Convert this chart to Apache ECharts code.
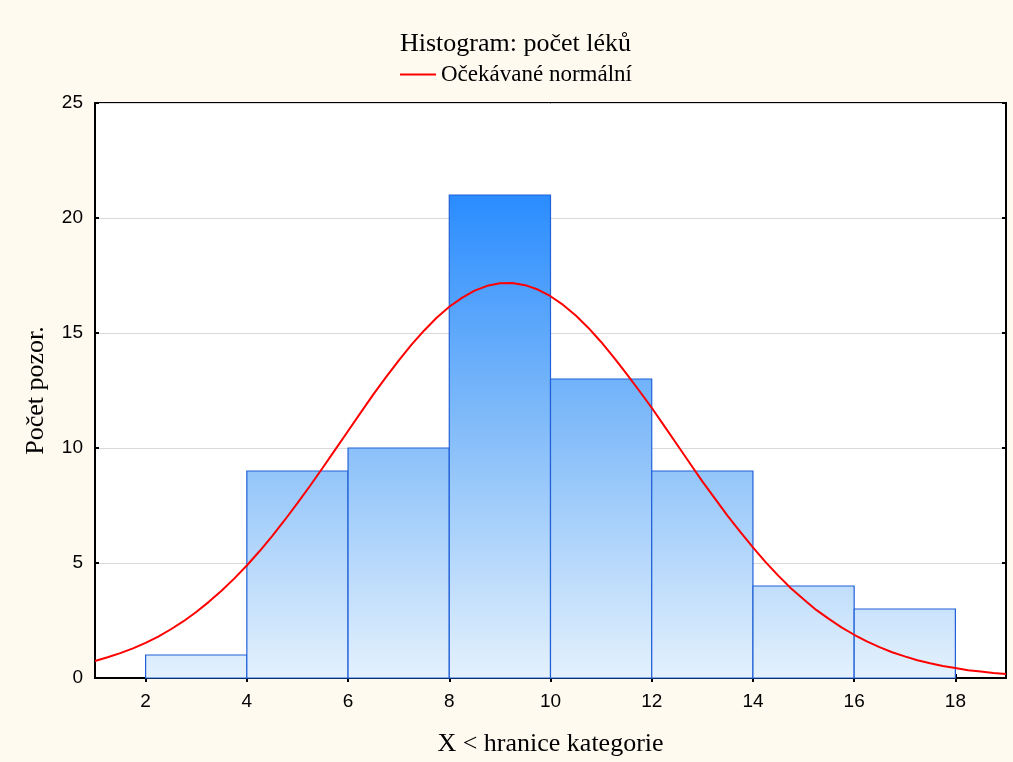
<!DOCTYPE html>
<html>
<head>
<meta charset="utf-8">
<script src="https://cdn.jsdelivr.net/npm/echarts@6/dist/echarts.min.js"></script>
<style>
html,body{margin:0;padding:0;background:#FFFAF0;}
#chart{width:1013px;height:762px;}
</style>
</head>
<body>
<div id="chart"></div>
<script>
// Histogram bins: lower bound, upper bound, count
const binStarts = [2, 4, 6, 8, 10, 12, 14, 16];
const binEnds   = [4, 6, 8, 10, 12, 14, 16, 18];
const binCounts = [1, 9, 10, 21, 13, 9, 4, 3];

// Expected normal curve
const curveX = [1,1.25,1.5,1.75,2,2.25,2.5,2.75,3,3.25,3.5,3.75,4,4.25,4.5,4.75,5,5.25,5.5,5.75,6,6.25,6.5,6.75,7,7.25,7.5,7.75,8,8.25,8.5,8.75,9,9.25,9.5,9.75,10,10.25,10.5,10.75,11,11.25,11.5,11.75,12,12.25,12.5,12.75,13,13.25,13.5,13.75,14,14.25,14.5,14.75,15,15.25,15.5,15.75,16,16.25,16.5,16.75,17,17.25,17.5,17.75,18,18.25,18.5,18.75,19];
const curveY = [0.74,0.90,1.08,1.29,1.53,1.80,2.12,2.47,2.87,3.31,3.79,4.32,4.89,5.51,6.17,6.87,7.60,8.36,9.14,9.94,10.74,11.54,12.33,13.08,13.80,14.48,15.10,15.66,16.14,16.53,16.84,17.05,17.16,17.17,17.08,16.89,16.60,16.22,15.76,15.22,14.61,13.94,13.23,12.50,11.75,10.95,10.15,9.35,8.55,7.80,7.05,6.35,5.68,5.04,4.45,3.90,3.42,2.96,2.57,2.20,1.88,1.59,1.34,1.12,0.94,0.77,0.64,0.52,0.43,0.34,0.28,0.22,0.17];

const xTicks = [2, 4, 6, 8, 10, 12, 14, 16, 18];
const yTicks = [0, 5, 10, 15, 20, 25];

const titleText = 'Histogram: počet léků';
const legendName = 'Očekávané normální';
const xName = 'X < hranice kategorie';
const yName = 'Počet pozor.';

const bins = binStarts.map((s, i) => [s, binEnds[i], binCounts[i]]);
const curve = curveX.map((x, i) => [x, curveY[i]]);
const maxCount = Math.max(...binCounts);

const chart = echarts.init(document.getElementById('chart'));
const serif = '"Liberation Serif", "Times New Roman", serif';
const sans = '"Liberation Sans", Arial, sans-serif';

chart.setOption({
  backgroundColor: '#FFFAF0',
  animation: false,
  title: {
    text: titleText,
    left: 395,
    top: 26,
    textStyle: {fontFamily: serif, fontSize: 26, fontWeight: 'normal', color: '#000'}
  },
  legend: {
    top: 58,
    left: 395,
    itemWidth: 36,
    itemHeight: 2,
    itemGap: 10,
    textStyle: {fontFamily: serif, fontSize: 23, color: '#000'},
    data: [{name: legendName, icon: 'rect'}]
  },
  grid: {
    left: 95, right: 7, top: 103, bottom: 83,
    show: true, backgroundColor: '#fff', borderColor: '#000', borderWidth: 2
  },
  xAxis: [{
    type: 'value', min: 1, max: 19, position: 'bottom',
    name: xName, nameLocation: 'middle', nameGap: 53,
    nameTextStyle: {fontFamily: serif, fontSize: 26, color: '#000'},
    axisLine: {show: true, lineStyle: {color: '#000', width: 2}},
    axisTick: {show: true, inside: true, length: 4, customValues: xTicks, lineStyle: {color: '#000', width: 2}},
    axisLabel: {customValues: xTicks, margin: 14, fontFamily: sans, fontSize: 19, color: '#000'},
    splitLine: {show: false}
  }, {
    type: 'value', min: 1, max: 19, position: 'top',
    axisLine: {show: true, lineStyle: {color: '#000', width: 2}},
    axisTick: {show: true, inside: true, length: 4, customValues: xTicks, lineStyle: {color: '#000', width: 2}},
    axisLabel: {show: false},
    splitLine: {show: false}
  }],
  yAxis: [{
    type: 'value', min: 0, max: 25, interval: 5, position: 'left',
    name: yName, nameLocation: 'middle', nameGap: 46,
    nameTextStyle: {fontFamily: serif, fontSize: 26, color: '#000'},
    axisLine: {show: true, lineStyle: {color: '#000', width: 2}},
    axisTick: {show: true, inside: true, length: 4, lineStyle: {color: '#000', width: 2}},
    axisLabel: {margin: 12, fontFamily: sans, fontSize: 19, color: '#000'},
    splitLine: {show: true, lineStyle: {color: '#d9d9d9', width: 1}}
  }, {
    type: 'value', min: 0, max: 25, interval: 5, position: 'right',
    axisLine: {show: true, lineStyle: {color: '#000', width: 2}},
    axisTick: {show: true, inside: true, length: 4, lineStyle: {color: '#000', width: 2}},
    axisLabel: {show: false},
    splitLine: {show: false}
  }],
  series: [{
    type: 'custom',
    name: 'bins',
    xAxisIndex: 0, yAxisIndex: 0,
    data: bins,
    renderItem: function (params, api) {
      const tl = api.coord([api.value(0), api.value(2)]);
      const br = api.coord([api.value(1), 0]);
      const gTop = api.coord([0, maxCount])[1];
      const gBot = api.coord([0, 0])[1];
      const fill = new echarts.graphic.LinearGradient(0, gTop, 0, gBot, [
        {offset: 0, color: '#2A8CFF'},
        {offset: 0.45, color: '#7DB9F9'},
        {offset: 1, color: '#E4F1FD'}
      ], true);
      return {
        type: 'rect',
        shape: {x: tl[0], y: tl[1], width: br[0] - tl[0], height: br[1] - tl[1]},
        style: {fill: fill, stroke: '#2060D8', lineWidth: 1.2}
      };
    }
  }, {
    type: 'line',
    name: legendName,
    xAxisIndex: 0, yAxisIndex: 0,
    data: curve,
    smooth: false,
    showSymbol: false,
    symbol: 'none',
    lineStyle: {color: '#FF0000', width: 2},
    itemStyle: {color: '#FF0000'},
    z: 5
  }]
});
</script>
</body>
</html>
